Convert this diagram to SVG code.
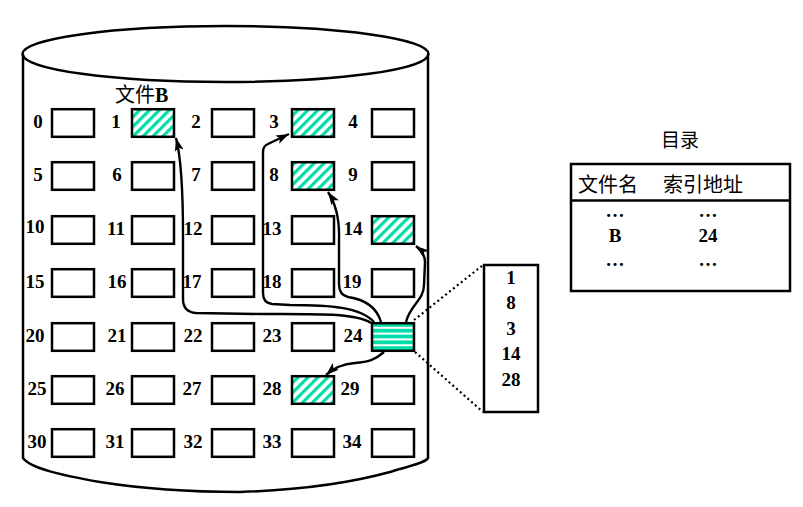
<svg xmlns="http://www.w3.org/2000/svg" width="803" height="507" viewBox="0 0 803 507">
<style>
.bx{fill:#fff;stroke:#000;stroke-width:2.5}
.hs{fill:url(#diag);stroke:#000;stroke-width:2.5}
.hz{fill:url(#horiz);stroke:#000;stroke-width:2.5}
.n{font-family:"Liberation Serif","Times New Roman",serif;font-weight:bold;font-size:19px;fill:#000;text-anchor:middle}
.cj{font-family:"Noto Sans CJK SC",sans-serif;font-size:19px;fill:#000}
.cyl{fill:none;stroke:#000;stroke-width:2.5}
.ar{fill:none;stroke:#000;stroke-width:2.4;marker-end:url(#ah)}
.dt{fill:none;stroke:#000;stroke-width:2.2;stroke-dasharray:2 3}
</style>
<defs>
<pattern id="diag" patternUnits="userSpaceOnUse" width="7" height="7" patternTransform="rotate(45)">
<rect width="7" height="7" fill="#fff"/>
<rect width="3.2" height="7" fill="#00DDAA"/>
</pattern>
<pattern id="horiz" patternUnits="userSpaceOnUse" x="0" y="323" width="10" height="5.8">
<rect width="10" height="5.8" fill="#00DDAA"/>
<rect y="3.8" width="10" height="2" fill="#fff"/>
</pattern>
<marker id="ah" markerUnits="userSpaceOnUse" markerWidth="14" markerHeight="10" refX="13" refY="4.5" orient="auto">
<path d="M0,0 L13,4.5 L0,9 L3,4.5 Z" fill="#000"/>
</marker>
</defs>
<rect width="803" height="507" fill="#fff"/>
<g id="disk">
<ellipse class="cyl" cx="225.5" cy="54" rx="203" ry="28"/>
<path class="cyl" d="M23,54 L23,458 C30,468 60,475 100,482 C150,490 200,492 240,492 C300,490 350,483 390,472 C410,466 425,463 428,458 L428,54"/>
</g>
<text class="cj" x="115" y="102" style="font-size:20px">文件<tspan style="font-family:'Liberation Serif',serif;font-weight:bold;font-size:20px">B</tspan></text>
<g id="row0">
<g id="b0"><text class="n" x="38" y="128">0</text><rect class="bx" x="52" y="109.2" width="42" height="27.6"/></g>
<g id="b1"><text class="n" x="116" y="128">1</text><rect class="hs" x="132" y="109.2" width="42" height="27.6"/></g>
<g id="b2"><text class="n" x="196" y="128">2</text><rect class="bx" x="212" y="109.2" width="42" height="27.6"/></g>
<g id="b3"><text class="n" x="274" y="128">3</text><rect class="hs" x="292" y="109.2" width="42" height="27.6"/></g>
<g id="b4"><text class="n" x="353" y="128">4</text><rect class="bx" x="372" y="109.2" width="42" height="27.6"/></g>
</g>
<g id="row1">
<g id="b5"><text class="n" x="38" y="181">5</text><rect class="bx" x="52" y="162.2" width="42" height="27.6"/></g>
<g id="b6"><text class="n" x="117" y="181">6</text><rect class="bx" x="132" y="162.2" width="42" height="27.6"/></g>
<g id="b7"><text class="n" x="196" y="181">7</text><rect class="bx" x="212" y="162.2" width="42" height="27.6"/></g>
<g id="b8"><text class="n" x="274" y="181">8</text><rect class="hs" x="292" y="162.2" width="42" height="27.6"/></g>
<g id="b9"><text class="n" x="353" y="181">9</text><rect class="bx" x="372" y="162.2" width="42" height="27.6"/></g>
</g>
<g id="row2">
<g id="b10"><text class="n" x="35" y="233">10</text><rect class="bx" x="52" y="216.2" width="42" height="27.6"/></g>
<g id="b11"><text class="n" x="116" y="235">11</text><rect class="bx" x="132" y="216.2" width="42" height="27.6"/></g>
<g id="b12"><text class="n" x="193" y="235">12</text><rect class="bx" x="212" y="216.2" width="42" height="27.6"/></g>
<g id="b13"><text class="n" x="272" y="235">13</text><rect class="bx" x="292" y="216.2" width="42" height="27.6"/></g>
<g id="b14"><text class="n" x="353" y="235">14</text><rect class="hs" x="372" y="216.2" width="42" height="27.6"/></g>
</g>
<g id="row3">
<g id="b15"><text class="n" x="35" y="288">15</text><rect class="bx" x="52" y="269.2" width="42" height="27.6"/></g>
<g id="b16"><text class="n" x="117" y="288">16</text><rect class="bx" x="132" y="269.2" width="42" height="27.6"/></g>
<g id="b17"><text class="n" x="192" y="288">17</text><rect class="bx" x="212" y="269.2" width="42" height="27.6"/></g>
<g id="b18"><text class="n" x="272" y="288">18</text><rect class="bx" x="292" y="269.2" width="42" height="27.6"/></g>
<g id="b19"><text class="n" x="352" y="288">19</text><rect class="bx" x="372" y="269.2" width="42" height="27.6"/></g>
</g>
<g id="row4">
<g id="b20"><text class="n" x="35" y="342">20</text><rect class="bx" x="52" y="323.2" width="42" height="27.6"/></g>
<g id="b21"><text class="n" x="117" y="342">21</text><rect class="bx" x="132" y="323.2" width="42" height="27.6"/></g>
<g id="b22"><text class="n" x="193" y="342">22</text><rect class="bx" x="212" y="323.2" width="42" height="27.6"/></g>
<g id="b23"><text class="n" x="272" y="342">23</text><rect class="bx" x="292" y="323.2" width="42" height="27.6"/></g>
<g id="b24"><text class="n" x="353" y="342">24</text><rect class="hz" x="372" y="323.2" width="42" height="27.6"/></g>
</g>
<g id="row5">
<g id="b25"><text class="n" x="37" y="395">25</text><rect class="bx" x="52" y="376.2" width="42" height="27.6"/></g>
<g id="b26"><text class="n" x="115" y="395">26</text><rect class="bx" x="132" y="376.2" width="42" height="27.6"/></g>
<g id="b27"><text class="n" x="192" y="395">27</text><rect class="bx" x="212" y="376.2" width="42" height="27.6"/></g>
<g id="b28"><text class="n" x="272" y="395">28</text><rect class="hs" x="292" y="376.2" width="42" height="27.6"/></g>
<g id="b29"><text class="n" x="350" y="395">29</text><rect class="bx" x="372" y="376.2" width="42" height="27.6"/></g>
</g>
<g id="row6">
<g id="b30"><text class="n" x="37" y="448">30</text><rect class="bx" x="52" y="429.2" width="42" height="27.6"/></g>
<g id="b31"><text class="n" x="115" y="448">31</text><rect class="bx" x="132" y="429.2" width="42" height="27.6"/></g>
<g id="b32"><text class="n" x="193" y="448">32</text><rect class="bx" x="212" y="429.2" width="42" height="27.6"/></g>
<g id="b33"><text class="n" x="272" y="448">33</text><rect class="bx" x="292" y="429.2" width="42" height="27.6"/></g>
<g id="b34"><text class="n" x="352" y="448">34</text><rect class="bx" x="372" y="429.2" width="42" height="27.6"/></g>
</g>
<g id="index">
<rect class="bx" x="484" y="265" width="54" height="147"/>
<text class="n" x="511" y="284">1</text>
<text class="n" x="511" y="309">8</text>
<text class="n" x="511" y="335">3</text>
<text class="n" x="511" y="360">14</text>
<text class="n" x="511" y="386">28</text>
</g>
<g id="directory">
<text class="cj" x="680" y="147" text-anchor="middle">目录</text>
<rect class="bx" x="571" y="164" width="219" height="127"/>
<line x1="571" y1="200.5" x2="790" y2="200.5" stroke="#000" stroke-width="2.5"/>
<text class="cj" x="578" y="192" style="font-size:20px">文件名</text>
<text class="cj" x="663" y="192" style="font-size:20px">索引地址</text>
<text class="n" x="615" y="217">…</text>
<text class="n" x="708" y="217">…</text>
<text class="n" x="615" y="242">B</text>
<text class="n" x="708" y="242">24</text>
<text class="n" x="615" y="266">…</text>
<text class="n" x="708" y="266">…</text>
</g>
<g id="connectors">
<path class="ar" d="M371,323 C355,313 320,314 260,314 L196,313 Q183,312 183,299 L183,235 Q183,165 176,138"/>
<path class="ar" d="M374,322 C360,307 330,305 290,305 L272,304 Q263,303 263,293 L263,152 Q263,146 268,144 L289,134"/>
<path class="ar" d="M381,322 C376,305 362,299 348,297 Q339,295 339,284 L339,240 Q340,210 328,192"/>
<path class="ar" d="M406,322 C410,305 424,300 424,285 L425,262 Q425,253 416,246"/>
<path class="ar" d="M384,352 C375,360 368,362 355,363 C343,364 335,367 326,375"/>
<path class="dt" d="M414,320 L483,265"/>
<path class="dt" d="M415,352 L483,412"/>
</g>
</svg>
